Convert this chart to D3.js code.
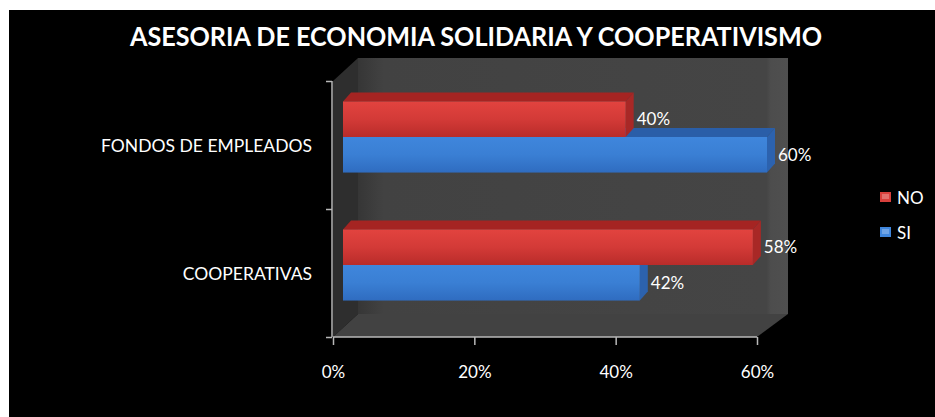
<!DOCTYPE html>
<html><head><meta charset="utf-8">
<script src="https://cdn.jsdelivr.net/npm/d3@7"></script>
<style>body{margin:0;background:#fff}svg{display:block}</style>
</head><body>
<svg id="c" width="935" height="417"></svg>
<script>
const categories = ["FONDOS DE EMPLEADOS", "COOPERATIVAS"];
const seriesNames = ["NO", "SI"];
const noValues = [40, 58];
const siValues = [60, 42];
const xTicks = [0, 20, 40, 60];
const title = "ASESORIA DE ECONOMIA SOLIDARIA Y COOPERATIVISMO";

const svg = d3.select("#c");
const FONT = "Lato, 'Open Sans', sans-serif";
svg.append("rect").attr("x", 9).attr("y", 10).attr("width", 926).attr("height", 407).attr("fill", "#000");

const defs = svg.append("defs");
function vgrad(id, stops) {
  const g = defs.append("linearGradient").attr("id", id).attr("x1", 0).attr("y1", 0).attr("x2", 0).attr("y2", 1);
  stops.forEach(s => g.append("stop").attr("offset", s[0]).attr("stop-color", s[1]));
}
function hgrad(id, stops) {
  const g = defs.append("linearGradient").attr("id", id).attr("x1", 0).attr("y1", 0).attr("x2", 1).attr("y2", 0);
  stops.forEach(s => g.append("stop").attr("offset", s[0]).attr("stop-color", s[1]));
}
vgrad("redF", [[0, "#e2433f"], [0.5, "#d33a37"], [1, "#b92c2a"]]);
vgrad("blueF", [[0, "#3f86dc"], [0.5, "#3a7fd4"], [1, "#2f6cc0"]]);
hgrad("wall", [[0, "#363636"], [0.06, "#424242"], [0.95, "#454545"], [0.96, "#4d4d4d"], [1, "#4f4f4f"]]);

const x = d3.scaleLinear().domain([0, 60]).range([333, 757]);
const yAxisTop = 81, yAxisBot = 337;
const yBand = d3.scaleBand().domain(categories).range([yAxisTop, yAxisBot]);
const ySub = d3.scaleBand().domain(seriesNames).range([0, yBand.bandwidth()]).paddingOuter(0.8);

// 3D walls
const wd = {dx: 25, dy: -23};
const x0 = x(0), x1 = x(60);
svg.append("path").attr("fill", "url(#wall)")
  .attr("d", `M${x0 + wd.dx},${yAxisTop + wd.dy}H${x1 + wd.dx + 6}V${yAxisBot + wd.dy}H${x0 + wd.dx}Z`);
svg.append("path").attr("fill", "#2e2e2e")
  .attr("d", `M${x0},${yAxisTop}L${x0 + wd.dx},${yAxisTop + wd.dy}V${yAxisBot + wd.dy}L${x0},${yAxisBot}Z`);
svg.append("path").attr("fill", "#424242")
  .attr("d", `M${x0},${yAxisBot}H${x1}L${x1 + wd.dx + 6},${yAxisBot + wd.dy}H${x0 + wd.dx}Z`);

// bars
const off = {dx: 10, dy: -8};
const dep = {dx: 8, dy: -9};
const series = [
  {name: "SI", values: siValues, front: "url(#blueF)", top: "#2a5ea8", side: "#2c62ae"},
  {name: "NO", values: noValues, front: "url(#redF)", top: "#a52422", side: "#a82826"}
];
const gBars = svg.append("g");
categories.forEach((cat, i) => {
  series.forEach(s => {
    const v = s.values[i];
    const xa = x(0) + off.dx, xb = x(v) + off.dx;
    const ya = yBand(cat) + ySub(s.name) + off.dy, yb = ya + ySub.bandwidth();
    gBars.append("path").attr("fill", s.top)
      .attr("d", `M${xa},${ya}L${xa + dep.dx},${ya + dep.dy}H${xb + dep.dx}L${xb},${ya}Z`);
    gBars.append("path").attr("fill", s.side)
      .attr("d", `M${xb},${ya}L${xb + dep.dx},${ya + dep.dy}V${yb + dep.dy}L${xb},${yb}Z`);
    gBars.append("rect").attr("x", xa).attr("y", ya).attr("width", xb - xa).attr("height", yb - ya).attr("fill", s.front);
    svg.append("text").attr("x", xb + dep.dx + 3).attr("y", (ya + yb) / 2 + 6)
      .attr("fill", "#fff").attr("font-family", FONT).attr("font-size", 17).text(v + "%");
  });
});

// axes
const xAxis = svg.append("g").attr("transform", `translate(0,${yAxisBot})`)
  .call(d3.axisBottom(x).tickValues(xTicks).tickSize(8).tickFormat(d => d + "%"));
const yLin = d3.scaleLinear().domain([0, categories.length]).range([yAxisTop, yAxisBot]);
const yAxis = svg.append("g").attr("transform", `translate(${x0 - 1},0)`)
  .call(d3.axisLeft(yLin).ticks(categories.length).tickSize(6).tickFormat(""));
[xAxis, yAxis].forEach(a => {
  a.select(".domain").attr("stroke", "#b8b8b8").attr("stroke-width", 1.5);
  a.selectAll(".tick line").attr("stroke", "#b8b8b8").attr("stroke-width", 1.5);
});
xAxis.select(".domain").attr("d", `M${x0},0H${x1}`);
yAxis.select(".domain").attr("d", `M0,${yAxisTop}V${yAxisBot}`);
xAxis.selectAll(".tick text").attr("fill", "#fff").attr("font-family", FONT).attr("font-size", 17).attr("dy", null).attr("y", 41);

// category labels
categories.forEach((cat, i) => {
  svg.append("text").attr("x", 312).attr("y", yBand(cat) + yBand.bandwidth() / 2 + 7)
    .attr("text-anchor", "end").attr("fill", "#fff").attr("font-family", FONT).attr("font-size", 17.5).text(cat);
});

// title
svg.append("text").attr("x", 130).attr("y", 46).attr("fill", "#fff").attr("font-family", FONT)
  .attr("font-weight", "bold").attr("font-size", 26).attr("textLength", 692).attr("lengthAdjust", "spacingAndGlyphs").text(title);

// legend
const legendColors = {NO: "#d8403c", SI: "#3f86dc"};
seriesNames.forEach((n, i) => {
  const ly = 192 + i * 35;
  svg.append("rect").attr("x", 880).attr("y", ly).attr("width", 11).attr("height", 10).attr("fill", legendColors[n]);
  svg.append("rect").attr("x", 882).attr("y", ly + 2).attr("width", 7).attr("height", 5).attr("fill", "#fff").attr("opacity", 0.25);
  svg.append("text").attr("x", 897).attr("y", ly + 12).attr("fill", "#fff").attr("font-family", FONT).attr("font-size", 17).text(n);
});
</script>
</body></html>
